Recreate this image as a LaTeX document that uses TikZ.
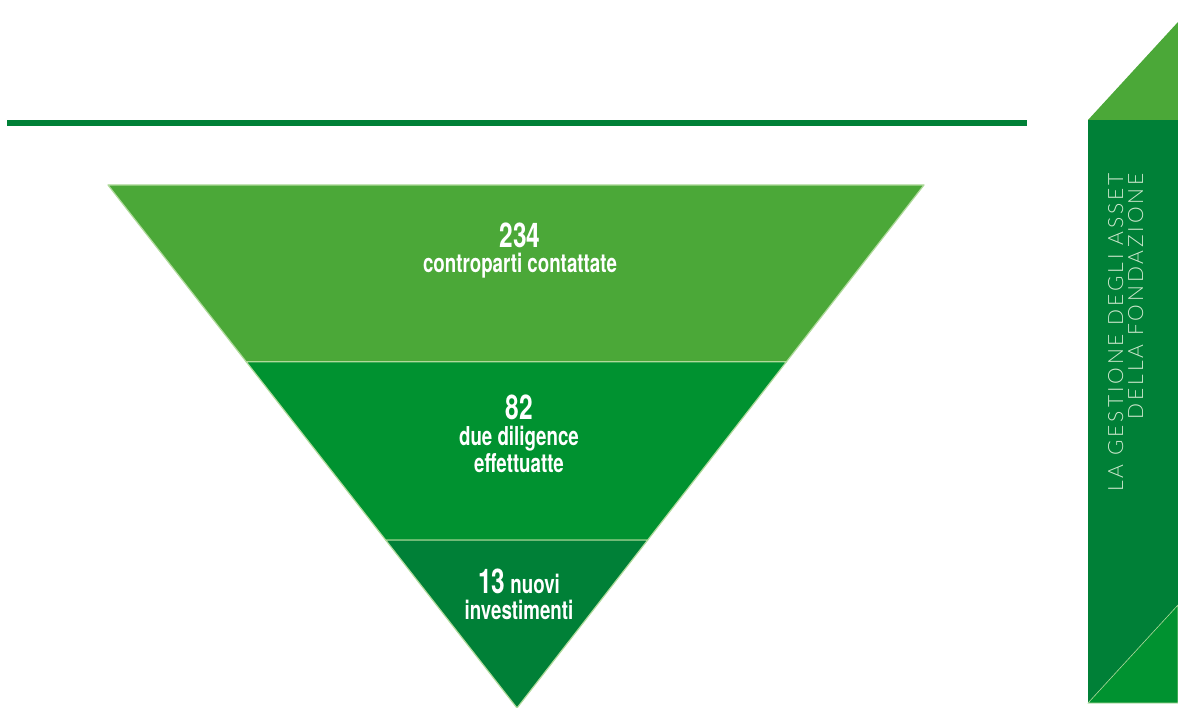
\documentclass[tikz,border=0pt]{standalone}
\usepackage{fontspec}
\setmainfont{TeX Gyre Heros}[FakeStretch=0.72]
\IfFontExistsTF{Lato Light}{%
  \newfontfamily\sidefont{Lato Light}[LetterSpace=14]}{%
  \newfontfamily\sidefont{Lato}[LetterSpace=14]}
\usetikzlibrary{calc, positioning}
\definecolor{funnellight}{RGB}{75, 168, 56}
\definecolor{funnelmid}{RGB}{0, 146, 48}
\definecolor{funneldark}{RGB}{0, 128, 55}
\definecolor{edgegreen}{RGB}{175, 218, 155}
\definecolor{sidetext}{RGB}{205, 232, 205}

\begin{document}
\begin{tikzpicture}[x=1pt, y=-1pt,
  band/.style={draw=edgegreen, line width=1.2pt, line join=round},
  bignum/.style={text=white, font=\bfseries\fontsize{34}{34}\selectfont, inner sep=0pt, anchor=base},
  caption/.style={text=white, font=\bfseries\fontsize{26}{26}\selectfont, inner sep=0pt, anchor=base},
  sidelabel/.style={text=sidetext, font=\sidefont\fontsize{21}{21}\selectfont, inner sep=0pt, rotate=90, anchor=base east}]
  \useasboundingbox (0,0) rectangle (1178,708);

  % header rule
  \fill[funneldark] (7,120) rectangle (1027,126);

  % funnel corners
  \coordinate (tl) at (108,185);
  \coordinate (tr) at (924,185);
  \coordinate (apex) at (517,708);
  \coordinate (ml) at ($(tl)!0.338!(apex)$);
  \coordinate (mr) at ($(tr)!0.338!(apex)$);
  \coordinate (bl) at ($(tl)!0.679!(apex)$);
  \coordinate (br) at ($(tr)!0.679!(apex)$);

  % funnel bands
  \filldraw[band, fill=funnellight] (tl) -- (tr) -- (mr) -- (ml) -- cycle;
  \filldraw[band, fill=funnelmid] (ml) -- (mr) -- (br) -- (bl) -- cycle;
  \filldraw[band, fill=funneldark] (bl) -- (br) -- (apex) -- cycle;

  % funnel labels
  \node[bignum] (contactnum) at (520,248) {234};
  \node[caption] (contacttext) at (520,273) {controparti contattate};
  \node[bignum] (diligencenum) at (519,420) {82};
  \node[caption] (diligencetext) at (519,446) {due diligence};
  \node[caption] (diligencetext2) at (519,472) {effettuatte};
  \node[caption] (investnum) at (519,593) {{\fontsize{34}{34}\selectfont 13} nuovi};
  \node[caption] (investtext) at (519,619) {investimenti};

  % side tab
  \fill[funnellight] (1088,120) -- (1178,22) -- (1178,120) -- cycle;
  \fill[funneldark] (1088,120) rectangle (1178,703);
  \filldraw[draw=edgegreen, line width=0.6pt, fill=funnelmid] (1088,703) -- (1178,605) -- (1178,703) -- cycle;
  \node[sidelabel] (sideline1) at (1123,173) {LA GESTIONE DEGLI ASSET};
  \node[sidelabel] (sideline2) at (1143,173) {DELLA FONDAZIONE};
\end{tikzpicture}
\end{document}
